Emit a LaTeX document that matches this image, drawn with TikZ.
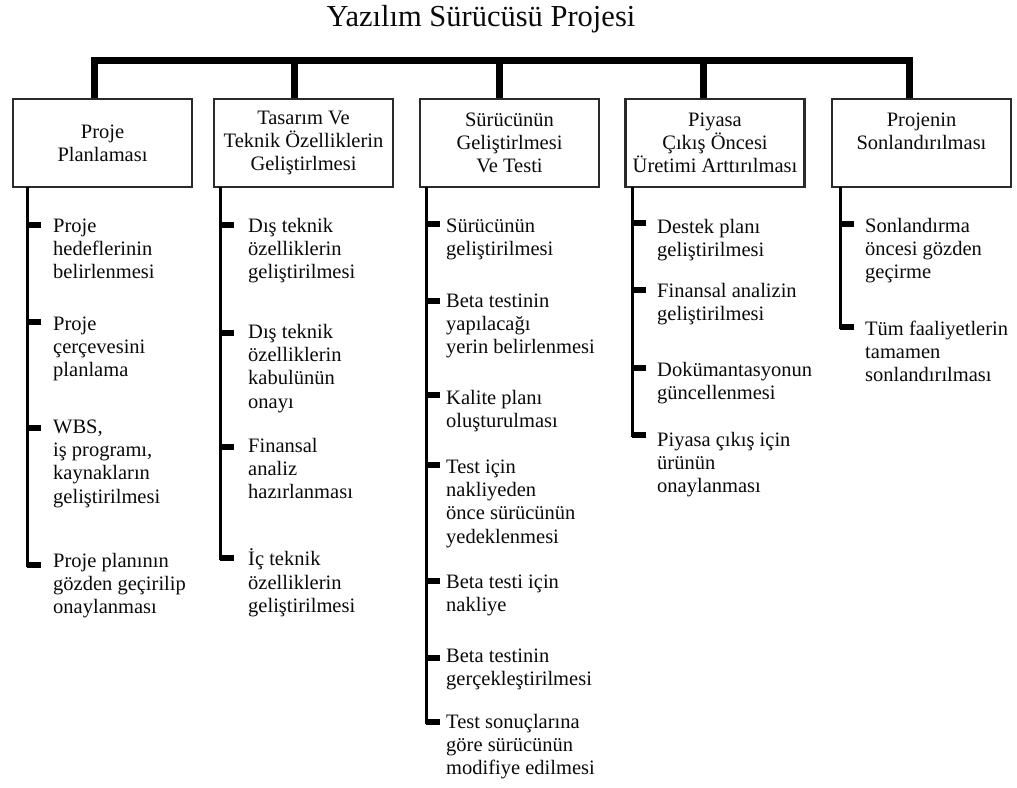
\documentclass[tikz,border=0pt]{standalone}
\usepackage{fontspec}
\setmainfont{Liberation Serif}
\definecolor{ink}{HTML}{0A0A0A}
\definecolor{frame}{HTML}{2A2A2A}

% one branch of the work breakdown: #1 id, #2 stem x, #3 text x, #4 parent box, #5 tick y / baseline y / text
\newcommand\wbscolumn[5]{%
  \foreach \t/\b/\txt [count=\i] in {#5} {
    \coordinate (k#1-\i) at (#2,\t);
    \draw[tickmark] (k#1-\i) -- ++(14,0);
    \node[item] (c#1-\i) at (#3,{\b-16.31}) {\strut\txt};
    \xdef\lastitem{\i}
  }
  \draw[stem] (#4.south -| k#1-1) -- (k#1-\lastitem);
}

\tikzset{
  head/.style={draw=frame, line width=2.4pt, minimum width=179pt, minimum height=88pt,
    inner sep=0pt, align=center, text=ink, font=\fontsize{20.5pt}{23pt}\selectfont},
  item/.style={anchor=north west, inner sep=0pt, align=left, text=ink,
    font=\fontsize{20.5pt}{23.3pt}\selectfont},
  trunk/.style={draw=black, line width=7pt},
  stem/.style={draw=black, line width=3pt, line cap=rect},
  tickmark/.style={draw=black, line width=5.5pt},
}

\begin{document}
\begin{tikzpicture}[x=1pt, y=-1pt]
  \useasboundingbox[fill=white] (0,0) rectangle (1017,787);

  % title
  \node[anchor=base, inner sep=0pt, text=ink, font=\fontsize{30.5pt}{34pt}\selectfont]
    (title) at (481,27) {Yazılım Sürücüsü Projesi};

  % top-level boxes
  \node[head] (b1) at (102.5,143) {Proje\\Planlaması};
  \node[head] (b2) at (303.5,143) {Tasarım Ve\\Teknik Özelliklerin\\Geliştirlmesi};
  \node[head] (b3) at (509.5,143) {Sürücünün\\Geliştirlmesi\\Ve Testi};
  \node[head] (b4) at (715,143) {Piyasa\\Çıkış Öncesi\\Üretimi Arttırılması};
  \node[head] (b5) at (921.5,143) {Projenin\\Sonlandırılması\\\mbox{}};

  % main bar and drops
  \coordinate (d1) at (94,60.5);
  \coordinate (d2) at (294,60.5);
  \coordinate (d3) at (499,60.5);
  \coordinate (d4) at (703,60.5);
  \coordinate (d5) at (909,60.5);
  \draw[trunk, line cap=rect] (d1) -- (d5);
  \foreach \k in {1,...,5} {
    \draw[trunk] (d\k) -- (d\k |- b\k.north);
  }

  % work packages
  \wbscolumn{1}{27}{53}{b1}{
    225/232/{Proje\\hedeflerinin\\belirlenmesi},
    322/330/{Proje\\çerçevesini\\planlama},
    428/433/{WBS,\\iş programı,\\kaynakların\\geliştirilmesi},
    565/567/{Proje planının\\gözden geçirilip\\onaylanması}}

  \wbscolumn{2}{220}{248}{b2}{
    225/232/{Dış teknik\\özelliklerin\\geliştirilmesi},
    333/338/{Dış teknik\\özelliklerin\\kabulünün\\onayı},
    447/452/{Finansal\\analiz\\hazırlanması},
    558/565/{İç teknik\\özelliklerin\\geliştirilmesi}}

  \wbscolumn{3}{426}{446}{b3}{
    224/232/{Sürücünün\\geliştirilmesi},
    301/307/{Beta testinin\\yapılacağı\\yerin belirlenmesi},
    395/404/{Kalite planı\\oluşturulması},
    465/473/{Test için\\nakliyeden\\önce sürücünün\\yedeklenmesi},
    581/588/{Beta testi için\\nakliye},
    658/662/{Beta testinin\\gerçekleştirilmesi},
    722/728/{Test sonuçlarına\\göre sürücünün\\modifiye edilmesi}}

  \wbscolumn{4}{632}{657}{b4}{
    223/233/{Destek planı\\geliştirilmesi},
    290/297/{Finansal analizin\\geliştirilmesi},
    368/376/{Dokümantasyonun\\güncellenmesi},
    435/446/{Piyasa çıkış için\\ürünün\\onaylanması}}

  \wbscolumn{5}{840}{865}{b5}{
    224/232/{Sonlandırma\\öncesi gözden\\geçirme},
    327/335/{Tüm faaliyetlerin\\tamamen\\sonlandırılması}}
\end{tikzpicture}
\end{document}
